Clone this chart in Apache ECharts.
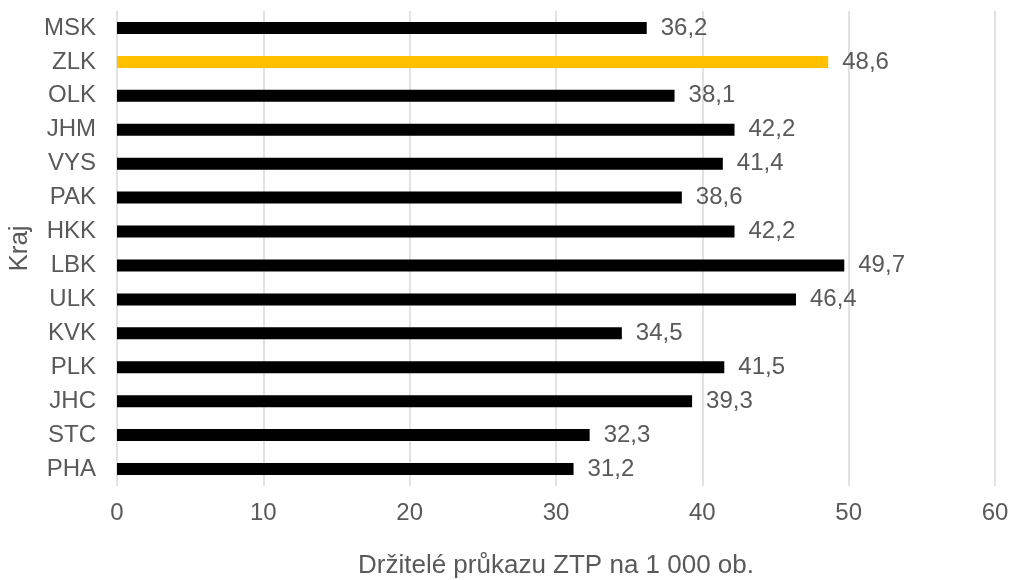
<!DOCTYPE html>
<html>
<head>
<meta charset="utf-8">
<script src="https://cdn.jsdelivr.net/npm/echarts@6/dist/echarts.min.js"></script>
<style>html,body{margin:0;padding:0;background:#fff}#c{width:1012px;height:580px}</style>
</head>
<body>
<div id="c"></div>
<script>
const categories = ['PHA','STC','JHC','PLK','KVK','ULK','LBK','HKK','PAK','VYS','JHM','OLK','ZLK','MSK'];
const values = [31.2,32.3,39.3,41.5,34.5,46.4,49.7,42.2,38.6,41.4,42.2,38.1,48.6,36.2];
const highlight = 'ZLK';
const xTicks = [0,10,20,30,40,50,60];

const chart = echarts.init(document.getElementById('c'), null, {renderer:'canvas'});
const font = 'Liberation Sans, Arial, sans-serif';
chart.setOption({
  animation:false,
  grid:{left:117,right:17,top:11,bottom:94,containLabel:false,outerBoundsMode:'none'},
  xAxis:{
    type:'value', min:xTicks[0], max:xTicks[xTicks.length-1], interval:10,
    name:'Držitelé průkazu ZTP na 1 000 ob.', nameLocation:'middle', nameGap:67,
    nameTextStyle:{color:'#595959',fontSize:26,fontFamily:font},
    axisLine:{show:false}, axisTick:{show:false},
    axisLabel:{color:'#595959',fontSize:24,fontFamily:font,margin:15},
    splitLine:{show:true,lineStyle:{color:'#d9d9d9',width:1.5}}
  },
  yAxis:{
    type:'category', data:categories,
    name:'Kraj', nameLocation:'middle', nameGap:83, nameRotate:90,
    nameTextStyle:{color:'#595959',fontSize:26,fontFamily:font},
    axisLine:{show:false}, axisTick:{show:false},
    axisLabel:{color:'#595959',fontSize:24,fontFamily:font,margin:21},
    splitLine:{show:false}
  },
  series:[{
    type:'bar', barWidth:12,
    data:values.map((v,i)=>({value:v,itemStyle:{color:categories[i]===highlight?'#FFC000':'#000000'}})),
    label:{show:true,position:'right',distance:14,color:'#595959',fontSize:24,fontFamily:font,
      formatter:p=>String(p.value).replace('.',',')}
  }]
});
</script>
</body>
</html>
